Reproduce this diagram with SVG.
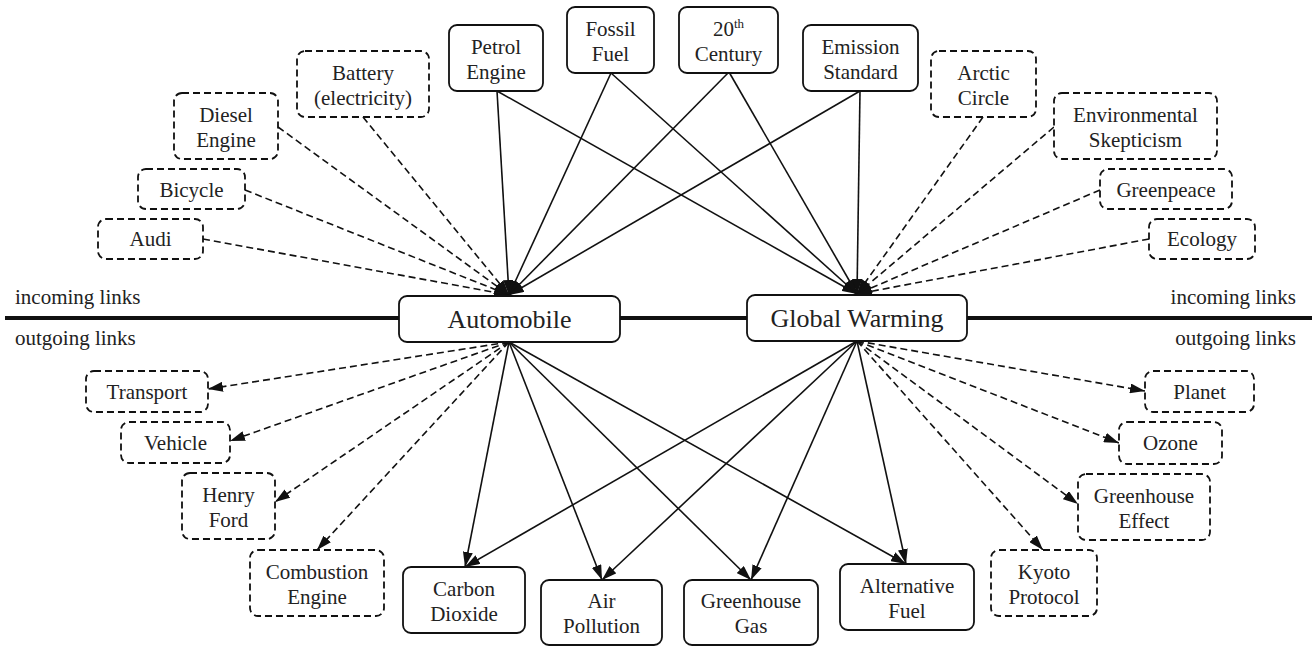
<svg xmlns="http://www.w3.org/2000/svg" width="1312" height="646" viewBox="0 0 1312 646" font-size="21" text-anchor="middle">
<defs>
<marker id="ah" markerUnits="userSpaceOnUse" markerWidth="15" markerHeight="10" refX="15" refY="5" orient="auto">
<path d="M0,0 L15,5 L0,10 z" fill="#111"/>
</marker>
<style>
.n rect{fill:#fff;stroke:#111;stroke-width:1.8}
.d rect{stroke-dasharray:7 4}
.c line{stroke:#111;stroke-width:1.6;fill:none;marker-end:url(#ah)}
.c .dl{stroke-dasharray:7 4}
</style>
</defs>
<rect width="1312" height="646" fill="#fff"/>
<line x1="5" y1="318" x2="1312" y2="318" stroke="#111" stroke-width="4"/>
<g id="side-labels" fill="#222">
<text font-family="Liberation Serif,serif" x="15" y="304" text-anchor="start">incoming links</text>
<text font-family="Liberation Serif,serif" x="15" y="345" text-anchor="start">outgoing links</text>
<text font-family="Liberation Serif,serif" x="1296" y="304" text-anchor="end">incoming links</text>
<text font-family="Liberation Serif,serif" x="1296" y="345" text-anchor="end">outgoing links</text>
</g>
<g id="connectors" class="c">
<line class="dl" x1="203" y1="239" x2="509" y2="295"/>
<line class="dl" x1="245" y1="190" x2="509" y2="295"/>
<line class="dl" x1="278" y1="127" x2="509" y2="295"/>
<line class="dl" x1="363" y1="117" x2="509" y2="295"/>
<line x1="497" y1="91" x2="509" y2="295"/>
<line x1="611" y1="73" x2="509" y2="295"/>
<line x1="729" y1="72" x2="509" y2="295"/>
<line x1="860" y1="91" x2="509" y2="295"/>
<line x1="497" y1="91" x2="857" y2="294"/>
<line x1="611" y1="73" x2="857" y2="294"/>
<line x1="729" y1="72" x2="857" y2="294"/>
<line x1="860" y1="91" x2="857" y2="294"/>
<line class="dl" x1="983" y1="117" x2="857" y2="294"/>
<line class="dl" x1="1054" y1="127" x2="857" y2="294"/>
<line class="dl" x1="1100" y1="190" x2="857" y2="294"/>
<line class="dl" x1="1149" y1="239" x2="857" y2="294"/>
<line class="dl" x1="509" y1="342" x2="208" y2="389"/>
<line class="dl" x1="509" y1="342" x2="230" y2="441"/>
<line class="dl" x1="509" y1="342" x2="275" y2="502"/>
<line class="dl" x1="509" y1="342" x2="317" y2="550"/>
<line x1="509" y1="342" x2="465" y2="567"/>
<line x1="509" y1="342" x2="602" y2="580"/>
<line x1="509" y1="342" x2="751" y2="580"/>
<line x1="509" y1="342" x2="906" y2="564"/>
<line x1="857" y1="341" x2="465" y2="567"/>
<line x1="857" y1="341" x2="602" y2="580"/>
<line x1="857" y1="341" x2="751" y2="580"/>
<line x1="857" y1="341" x2="906" y2="564"/>
<line class="dl" x1="857" y1="341" x2="1145" y2="391"/>
<line class="dl" x1="857" y1="341" x2="1119" y2="443"/>
<line class="dl" x1="857" y1="341" x2="1078" y2="504"/>
<line class="dl" x1="857" y1="341" x2="1043" y2="550"/>
</g>
<g fill="#222">
<g id="automobile" class="n"><rect x="399" y="296" width="221" height="46" rx="8"/><text font-family="Liberation Serif,serif" font-size="26" x="509.5" y="328">Automobile</text></g>
<g id="global-warming" class="n"><rect x="747" y="295" width="220" height="46" rx="8"/><text font-family="Liberation Serif,serif" font-size="26" x="857" y="327">Global Warming</text></g>
<g id="battery" class="n d"><rect x="297" y="51" width="132" height="66" rx="8"/><text font-family="Liberation Serif,serif" x="363" y="80">Battery</text><text font-family="Liberation Serif,serif" x="363" y="105">(electricity)</text></g>
<g id="diesel-engine" class="n d"><rect x="174" y="93" width="104" height="66" rx="8"/><text font-family="Liberation Serif,serif" x="226" y="122">Diesel</text><text font-family="Liberation Serif,serif" x="226" y="147">Engine</text></g>
<g id="bicycle" class="n d"><rect x="138" y="169" width="107" height="40" rx="8"/><text font-family="Liberation Serif,serif" x="191.5" y="197">Bicycle</text></g>
<g id="audi" class="n d"><rect x="98" y="219" width="105" height="40" rx="8"/><text font-family="Liberation Serif,serif" x="150.5" y="246">Audi</text></g>
<g id="petrol-engine" class="n"><rect x="449" y="25" width="94" height="66" rx="8"/><text font-family="Liberation Serif,serif" x="496" y="54">Petrol</text><text font-family="Liberation Serif,serif" x="496" y="79">Engine</text></g>
<g id="fossil-fuel" class="n"><rect x="567" y="7" width="87" height="66" rx="8"/><text font-family="Liberation Serif,serif" x="610.5" y="36">Fossil</text><text font-family="Liberation Serif,serif" x="610.5" y="61">Fuel</text></g>
<g id="20th-century" class="n"><rect x="679" y="7" width="99" height="66" rx="8"/><text font-family="Liberation Serif,serif" x="728.5" y="36">20<tspan font-size="13" dy="-8">th</tspan></text><text font-family="Liberation Serif,serif" x="728.5" y="61">Century</text></g>
<g id="emission-standard" class="n"><rect x="803" y="25" width="115" height="66" rx="8"/><text font-family="Liberation Serif,serif" x="860.5" y="54">Emission</text><text font-family="Liberation Serif,serif" x="860.5" y="79">Standard</text></g>
<g id="arctic-circle" class="n d"><rect x="931" y="51" width="105" height="66" rx="8"/><text font-family="Liberation Serif,serif" x="983.5" y="80">Arctic</text><text font-family="Liberation Serif,serif" x="983.5" y="105">Circle</text></g>
<g id="environmental-skepticism" class="n d"><rect x="1054" y="93" width="163" height="66" rx="8"/><text font-family="Liberation Serif,serif" x="1135.5" y="122">Environmental</text><text font-family="Liberation Serif,serif" x="1135.5" y="147">Skepticism</text></g>
<g id="greenpeace" class="n d"><rect x="1100" y="169" width="132" height="40" rx="8"/><text font-family="Liberation Serif,serif" x="1166" y="197">Greenpeace</text></g>
<g id="ecology" class="n d"><rect x="1149" y="219" width="106" height="40" rx="8"/><text font-family="Liberation Serif,serif" x="1202" y="246">Ecology</text></g>
<g id="transport" class="n d"><rect x="86" y="371" width="122" height="41" rx="8"/><text font-family="Liberation Serif,serif" x="147" y="399">Transport</text></g>
<g id="vehicle" class="n d"><rect x="121" y="422" width="109" height="41" rx="8"/><text font-family="Liberation Serif,serif" x="175.5" y="450">Vehicle</text></g>
<g id="henry-ford" class="n d"><rect x="182" y="473" width="93" height="66" rx="8"/><text font-family="Liberation Serif,serif" x="228.5" y="502">Henry</text><text font-family="Liberation Serif,serif" x="228.5" y="527">Ford</text></g>
<g id="combustion-engine" class="n d"><rect x="250" y="550" width="134" height="66" rx="8"/><text font-family="Liberation Serif,serif" x="317" y="579">Combustion</text><text font-family="Liberation Serif,serif" x="317" y="604">Engine</text></g>
<g id="carbon-dioxide" class="n"><rect x="403" y="567" width="122" height="66" rx="8"/><text font-family="Liberation Serif,serif" x="464" y="596">Carbon</text><text font-family="Liberation Serif,serif" x="464" y="621">Dioxide</text></g>
<g id="air-pollution" class="n"><rect x="541" y="580" width="121" height="65" rx="8"/><text font-family="Liberation Serif,serif" x="601.5" y="608">Air</text><text font-family="Liberation Serif,serif" x="601.5" y="633">Pollution</text></g>
<g id="greenhouse-gas" class="n"><rect x="684" y="580" width="134" height="65" rx="8"/><text font-family="Liberation Serif,serif" x="751" y="608">Greenhouse</text><text font-family="Liberation Serif,serif" x="751" y="633">Gas</text></g>
<g id="alternative-fuel" class="n"><rect x="840" y="564" width="134" height="66" rx="8"/><text font-family="Liberation Serif,serif" x="907" y="593">Alternative</text><text font-family="Liberation Serif,serif" x="907" y="618">Fuel</text></g>
<g id="planet" class="n d"><rect x="1145" y="371" width="109" height="41" rx="8"/><text font-family="Liberation Serif,serif" x="1199.5" y="399">Planet</text></g>
<g id="ozone" class="n d"><rect x="1119" y="422" width="103" height="42" rx="8"/><text font-family="Liberation Serif,serif" x="1170.5" y="450">Ozone</text></g>
<g id="greenhouse-effect" class="n d"><rect x="1078" y="474" width="132" height="66" rx="8"/><text font-family="Liberation Serif,serif" x="1144" y="503">Greenhouse</text><text font-family="Liberation Serif,serif" x="1144" y="528">Effect</text></g>
<g id="kyoto-protocol" class="n d"><rect x="991" y="550" width="106" height="66" rx="8"/><text font-family="Liberation Serif,serif" x="1044" y="579">Kyoto</text><text font-family="Liberation Serif,serif" x="1044" y="604">Protocol</text></g>
</g>
</svg>
